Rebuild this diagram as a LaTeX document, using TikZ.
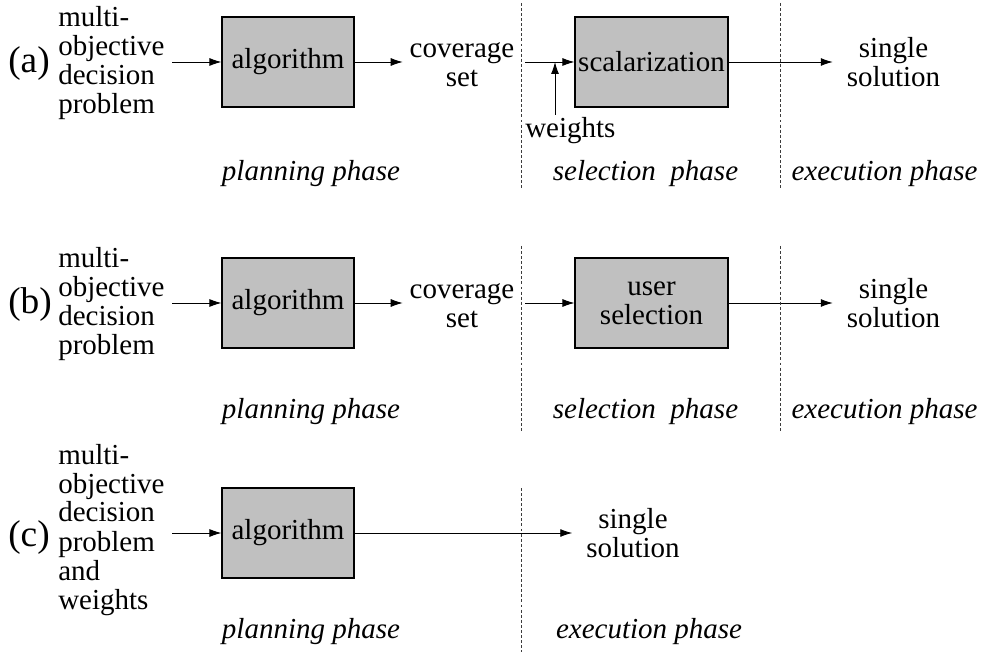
\documentclass[tikz,border=0pt]{standalone}
\usepackage{fontspec}
\setmainfont{Liberation Serif}
\usetikzlibrary{arrows.meta}
\definecolor{boxgray}{RGB}{192,192,192}
\definecolor{sepgray}{RGB}{60,60,60}
\newcommand{\txtlines}[2]{\begin{tabular}[t]{@{}#1@{}}#2\end{tabular}}
\begin{document}
\begin{tikzpicture}[x=0.75pt,y=-0.75pt,
  font=\fontsize{21.75}{21.75}\selectfont,
  box/.style={draw, line width=0.8pt, fill=boxgray, inner sep=0pt, minimum height=67.5pt},
  algbox/.style={minimum width=99pt},
  selbox/.style={minimum width=114.75pt},
  txt/.style={inner sep=0pt},
  lab/.style={inner sep=0pt, anchor=base west, font=\fontsize{28}{28}\selectfont},
  phase/.style={inner sep=0pt, anchor=base, font=\fontsize{21.75}{21.75}\selectfont\itshape},
  arr/.style={-{Latex[length=9pt,width=6pt]}, line width=0.7pt},
  sep/.style={draw=sepgray, dash pattern=on 2.2pt off 1.6pt, line width=0.5pt}]
\useasboundingbox (0,0) rectangle (982,652);

% ---------- row (a)
\node[lab] (la) at (8,73) {(a)};
\node[txt, anchor=base west] (pa) at (58,27) {\txtlines{l}{multi-\\objective\\decision\\problem}};
\node[box, algbox] (aa) at (288,62) {algorithm};
\node[txt, anchor=base] (ca) at (462,58) {\txtlines{c}{coverage\\set}};
\node[box, selbox] (sa) at (651.5,62) {scalarization};
\node[txt, anchor=base] (oa) at (893.5,58) {\txtlines{c}{single\\solution}};
\node[txt, anchor=base west] (wa) at (525,138) {weights};
\coordinate (ia) at (172,62);
\coordinate (ja) at (525,62);
\coordinate (wja) at (555,62);
\draw[arr] (ia) -- (aa.west);
\draw[arr, shorten >=5pt] (aa.east) -- (aa.east -| ca.west);
\draw[arr] (ja) -- (sa.west);
\draw[arr, shorten <=2pt] (wa.north -| wja) -- (wja);
\draw[arr, shorten >=10.3pt] (sa.east) -- (sa.east -| oa.west);
\node[phase] (pla) at (311,181) {planning phase};
\node[phase] (sla) at (645.5,181) {selection\ \ phase};
\node[phase] (ela) at (884.5,181) {execution phase};
\coordinate (d1t) at (521,3);
\coordinate (d1b) at (521,190);
\coordinate (d2t) at (780,3);
\coordinate (d2b) at (780,190);
\draw[sep] (d1t) -- (d1b);
\draw[sep] (d2t) -- (d2b);

% ---------- row (b)
\node[lab] (lb) at (8,314) {(b)};
\node[txt, anchor=base west] (pb) at (58,268) {\txtlines{l}{multi-\\objective\\decision\\problem}};
\node[box, algbox] (ab) at (288,303) {algorithm};
\node[txt, anchor=base] (cb) at (462,299) {\txtlines{c}{coverage\\set}};
\node[box, selbox, align=center] (sb) at (651.5,303) {user\\selection};
\node[txt, anchor=base] (ob) at (893.5,299) {\txtlines{c}{single\\solution}};
\coordinate (ib) at (172,303);
\coordinate (jb) at (525,303);
\draw[arr] (ib) -- (ab.west);
\draw[arr, shorten >=5pt] (ab.east) -- (ab.east -| cb.west);
\draw[arr] (jb) -- (sb.west);
\draw[arr, shorten >=10.3pt] (sb.east) -- (sb.east -| ob.west);
\node[phase] (plb) at (311,418) {planning phase};
\node[phase] (slb) at (645.5,418) {selection\ \ phase};
\node[phase] (elb) at (884.5,418) {execution phase};
\coordinate (d3t) at (521,246);
\coordinate (d3b) at (521,432);
\coordinate (d4t) at (780,246);
\coordinate (d4b) at (780,432);
\draw[sep] (d3t) -- (d3b);
\draw[sep] (d4t) -- (d4b);

% ---------- row (c)
\node[lab] (lc) at (8,546) {(c)};
\node[txt, anchor=base west] (pc) at (58,464) {\txtlines{l}{multi-\\objective\\decision\\problem\\and\\weights}};
\node[box, algbox] (ac) at (288,533) {algorithm};
\node[txt, anchor=base] (oc) at (633,528) {\txtlines{c}{single\\solution}};
\coordinate (ic) at (172,533);
\draw[arr] (ic) -- (ac.west);
\draw[arr, shorten >=10.3pt] (ac.east) -- (ac.east -| oc.west);
\node[phase] (plc) at (311,638) {planning phase};
\node[phase] (elc) at (649,638) {execution phase};
\coordinate (d5t) at (521,488);
\coordinate (d5b) at (521,652);
\draw[sep] (d5t) -- (d5b);
\end{tikzpicture}
\end{document}
